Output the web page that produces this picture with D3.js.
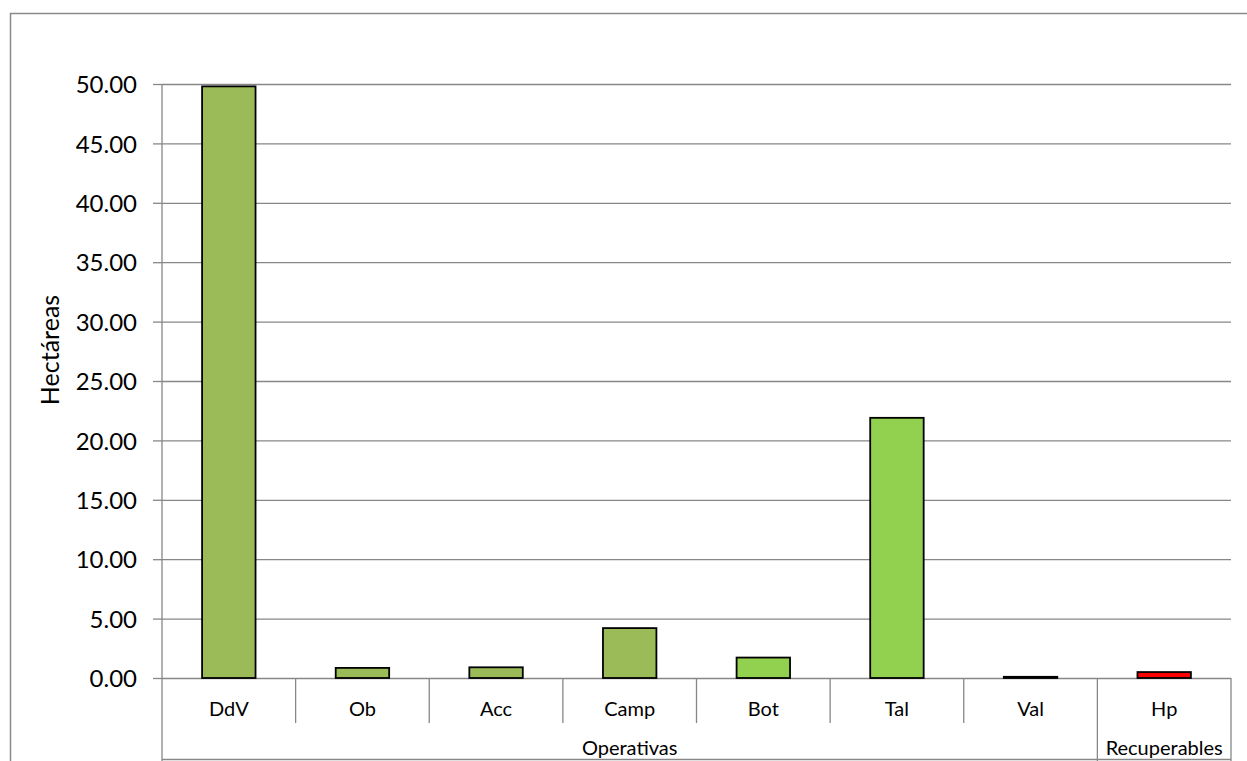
<!DOCTYPE html>
<html>
<head>
<meta charset="utf-8">
<script src="https://cdn.jsdelivr.net/npm/d3@7"></script>
<style>
  html, body { margin: 0; padding: 0; background: #ffffff; overflow: hidden; }
  svg { display: block; }
  svg text { font-family: Lato, "Open Sans", "Liberation Sans", sans-serif; }
</style>
</head>
<body>
<svg id="chart" width="1247" height="761"></svg>
<script>
// Superficie afectada por tipo de obra (hectáreas)
const categories = ["DdV", "Ob", "Acc", "Camp", "Bot", "Tal", "Val", "Hp"];
const values = [49.8, 0.85, 0.9, 4.2, 1.72, 21.9, 0.1, 0.5];
const groupOf = ["Operativas", "Operativas", "Operativas", "Operativas", "Operativas", "Operativas", "Operativas", "Recuperables"];
const groupNames = ["Operativas", "Recuperables"];
const yTicks = [0, 5, 10, 15, 20, 25, 30, 35, 40, 45, 50];
const yTitle = "Hectáreas";

// Colour per category
const barFill = d3.scaleOrdinal()
  .domain(categories)
  .range(["#9BBB59", "#9BBB59", "#9BBB59", "#9BBB59", "#92D050", "#92D050", "#92D050", "#FF0000"]);

const svg = d3.select("#chart");
const gridColor = "#878787";
const fontFamily = 'Lato, "Open Sans", "Liberation Sans", sans-serif';

const plot = { left: 162, right: 1231, top: 84, bottom: 678 };

const x = d3.scaleBand().domain(categories).range([plot.left, plot.right]).padding(0);
const y = d3.scaleLinear().domain([0, 50]).range([plot.bottom, plot.top]);

// Outer chart frame (top and left edges visible)
svg.append("path")
  .attr("d", `M10.5,761 L10.5,13.5 L1247,13.5`)
  .attr("fill", "none")
  .attr("stroke", "#8a8a8a")
  .attr("stroke-width", 1.5);

// Horizontal gridlines
const grid = svg.append("g")
  .attr("transform", `translate(${plot.left},0)`)
  .call(d3.axisRight(y).tickValues(yTicks).tickSize(plot.right - plot.left).tickFormat(""));
grid.select(".domain").remove();
grid.selectAll("line").attr("stroke", gridColor).attr("stroke-width", 1.3);

// Value axis with outside tick marks
const yAxis = svg.append("g")
  .attr("transform", `translate(${plot.left},0)`)
  .call(d3.axisLeft(y).tickValues(yTicks).tickSize(9).tickPadding(16).tickFormat(d3.format(".2f")));
yAxis.attr("font-family", fontFamily).attr("font-size", 24);
yAxis.select(".domain").remove();
yAxis.selectAll("line").attr("stroke", gridColor).attr("stroke-width", 1.3);
yAxis.selectAll("text")
  .attr("fill", "#000")
  .attr("dy", "0.36em");

// Vertical axis line, extended down through the category area
svg.append("line")
  .attr("x1", plot.left).attr("x2", plot.left)
  .attr("y1", plot.top).attr("y2", 761)
  .attr("stroke", gridColor).attr("stroke-width", 1.3);

// Y title
svg.append("text")
  .attr("transform", `translate(59,350) rotate(-90)`)
  .attr("text-anchor", "middle")
  .attr("font-size", 25)
  .attr("fill", "#000")
  .text(yTitle);

// Bars
const barFrac = 0.4;
svg.append("g").selectAll("rect")
  .data(categories)
  .join("rect")
  .attr("x", d => x(d) + x.bandwidth() * (1 - barFrac) / 2)
  .attr("width", x.bandwidth() * barFrac)
  .attr("y", (d, i) => y(values[i]))
  .attr("height", (d, i) => y(0) - y(values[i]))
  .attr("fill", d => barFill(d))
  .attr("stroke", "#000")
  .attr("stroke-width", 1.8);

// Category axis: separators between categories
const catAxis = svg.append("g");
const sepBottomInner = 723;
categories.forEach((c, i) => {
  if (i === 0) return;
  const xs = x(c);
  const groupBoundary = groupOf[i] !== groupOf[i - 1];
  catAxis.append("line")
    .attr("x1", xs).attr("x2", xs)
    .attr("y1", plot.bottom).attr("y2", groupBoundary ? 761 : sepBottomInner)
    .attr("stroke", gridColor).attr("stroke-width", 1.3);
});
catAxis.append("line")
  .attr("x1", plot.right).attr("x2", plot.right)
  .attr("y1", plot.bottom).attr("y2", 761)
  .attr("stroke", gridColor).attr("stroke-width", 1.3);
catAxis.append("line")
  .attr("x1", plot.left).attr("x2", plot.right)
  .attr("y1", 759.5).attr("y2", 759.5)
  .attr("stroke", gridColor).attr("stroke-width", 1.3);

// Category labels
catAxis.selectAll("text.cat")
  .data(categories)
  .join("text")
  .attr("class", "cat")
  .attr("x", d => x(d) + x.bandwidth() / 2)
  .attr("y", 716)
  .attr("text-anchor", "middle")
  .attr("font-size", 20)
  .attr("fill", "#000")
  .text(d => d);

// Group labels centred under their categories
groupNames.forEach(g => {
  const members = categories.filter((c, i) => groupOf[i] === g);
  const x0 = x(members[0]);
  const x1 = x(members[members.length - 1]) + x.bandwidth();
  catAxis.append("text")
    .attr("x", (x0 + x1) / 2)
    .attr("y", 755)
    .attr("text-anchor", "middle")
    .attr("font-size", 20)
    .attr("fill", "#000")
    .text(g);
});
</script>
</body>
</html>
